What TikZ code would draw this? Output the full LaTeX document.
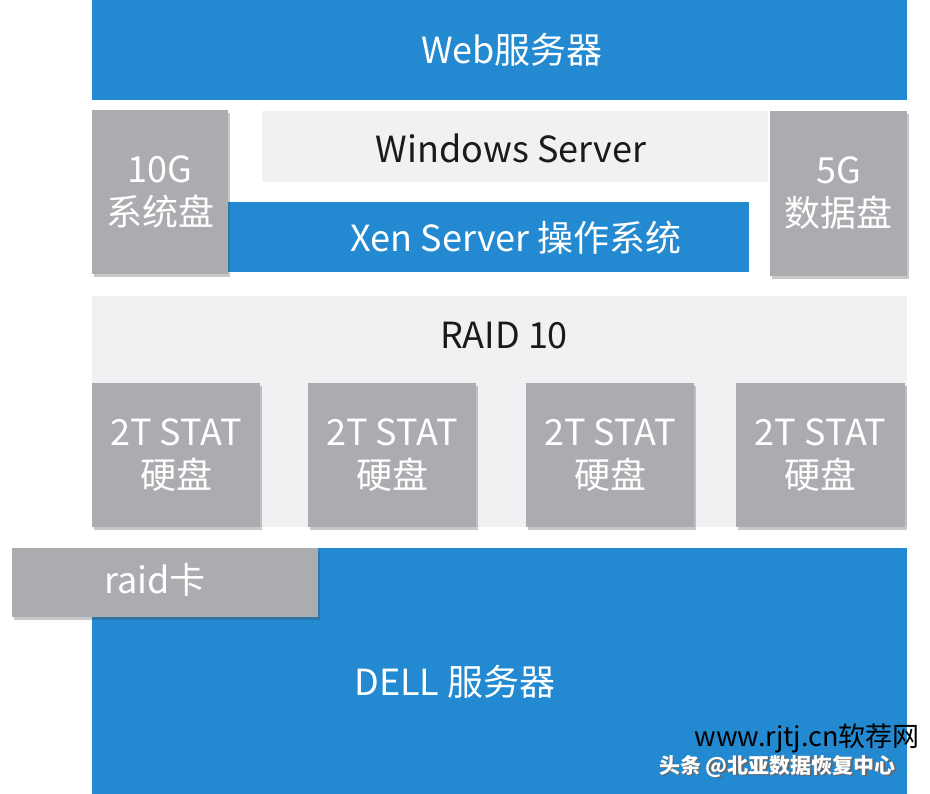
\documentclass[tikz,border=0pt]{standalone}
\usepackage{fontspec}
\setmainfont{Noto Sans CJK SC}
\usetikzlibrary{shadows}
\definecolor{dblue}{HTML}{2389D0}
\definecolor{dgray}{HTML}{ABACB0}
\definecolor{dlight}{HTML}{F0F1F3}
\definecolor{dtext}{HTML}{1A1A1A}
\tikzset{
  bluebar/.style={fill=dblue, draw=none, inner sep=0pt},
  lightbar/.style={fill=dlight, draw=none, inner sep=0pt},
  graybox/.style={fill=dgray, draw=none, inner sep=0pt, text=white, align=center,
    font=\fontsize{36}{43}\selectfont,
    drop shadow={shadow xshift=2pt, shadow yshift=-3pt, opacity=0.3, fill=black!70}},
  lbl/.style={inner sep=0pt, font=\fontsize{36}{43}\selectfont},
}
\begin{document}
\begin{tikzpicture}[x=1pt,y=-1pt]
\useasboundingbox (0,0) rectangle (930,794);
\fill[white] (0,0) rectangle (930,794);
% top web server
\node[bluebar, minimum width=815pt, minimum height=100pt] (web) at (499.5,50) {};
\node[lbl, text=white] (webt) at (512,50) {Web服务器};
% windows server
\node[lightbar, minimum width=506pt, minimum height=71pt] (win) at (515,146.5) {};
\node[lbl, text=dtext] (wint) at (511,148) {Windows Server};
% xen server
\node[bluebar, minimum width=521pt, minimum height=70pt] (xen) at (488.5,237) {};
\node[lbl, text=white] (xent) at (516,238) {Xen Server 操作系统};
% 10G / 5G
\node[graybox, minimum width=136pt, minimum height=164pt] (sys) at (160,192) {10G\\系统盘};
\node[graybox, minimum width=137pt, minimum height=165pt] (data) at (838.5,193.5) {5G\\数据盘};
% raid band
\node[lightbar, minimum width=815pt, minimum height=231pt] (raid) at (499.5,411.5) {};
\node[lbl, text=dtext] (raidt) at (504,336) {RAID 10};
% disks
\node[graybox, minimum width=168pt, minimum height=144pt] (d1) at (176,455) {2T STAT\\硬盘};
\node[graybox, minimum width=168pt, minimum height=144pt] (d2) at (392,455) {2T STAT\\硬盘};
\node[graybox, minimum width=168pt, minimum height=144pt] (d3) at (610,455) {2T STAT\\硬盘};
\node[graybox, minimum width=169pt, minimum height=144pt] (d4) at (820.5,455) {2T STAT\\硬盘};
% dell
\node[bluebar, minimum width=815pt, minimum height=246pt] (dell) at (499.5,671) {};
\node[lbl, text=white] (dellt) at (455,682) {DELL 服务器};
% raid card
\node[graybox, minimum width=306pt, minimum height=69pt] (card) at (165,582.5) {};
\node[lbl, text=white] (cardt) at (155,580) {raid卡};
% watermarks
\node[lbl, text=black!60, font=\bfseries\fontsize{21}{24}\selectfont] (wm1s) at (779,768) {头条 @北亚数据恢复中心};
\node[lbl, text=white, font=\bfseries\fontsize{21}{24}\selectfont] (wm1) at (777.5,766.5) {头条 @北亚数据恢复中心};
\node[lbl, text=black, font=\fontsize{27}{30}\selectfont] (wm2) at (807,738) {www.rjtj.cn软荐网};
\end{tikzpicture}
\end{document}
